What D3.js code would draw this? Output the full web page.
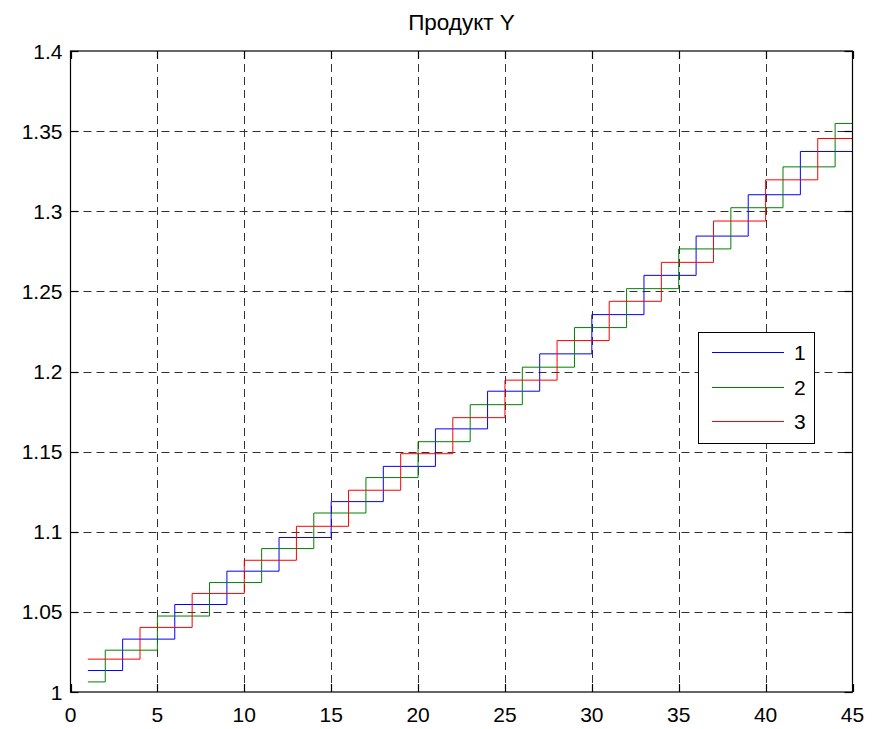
<!DOCTYPE html>
<html>
<head>
<meta charset="utf-8">
<script src="https://cdn.jsdelivr.net/npm/d3@7"></script>
<style>
  html, body { margin: 0; padding: 0; background: #fff; }
  svg { display: block; }
  text { font-family: "Liberation Sans", Arial, sans-serif; fill: #000; }
</style>
</head>
<body>
<svg id="chart" width="890" height="729"></svg>
<script>
// Chart title and axis ticks
const title = "Продукт Y";
const xTicks = [0, 5, 10, 15, 20, 25, 30, 35, 40, 45];
const yTicks = [1, 1.05, 1.1, 1.15, 1.2, 1.25, 1.3, 1.35, 1.4];

// Stair series: x where the level changes, and the level held from there
const s1x = [1, 3, 6, 9, 12, 15, 18, 21, 24, 27, 30, 33, 36, 39, 42, 45];
const s1y = [1.0134, 1.0330, 1.0546, 1.0754, 1.0964, 1.1188, 1.1408, 1.1642,
             1.1877, 1.2110, 1.2355, 1.2600, 1.2845, 1.3103, 1.3373, 1.3637];
const s2x = [1, 2, 5, 8, 11, 14, 17, 20, 23, 26, 29, 32, 35, 38, 41, 44];
const s2y = [1.0063, 1.0261, 1.0474, 1.0683, 1.0895, 1.1117, 1.1338, 1.1562,
             1.1793, 1.2027, 1.2274, 1.2517, 1.2765, 1.3022, 1.3277, 1.3548];
const s3x = [1, 4, 7, 10, 13, 16, 19, 22, 25, 28, 31, 34, 37, 40, 43];
const s3y = [1.0205, 1.0403, 1.0615, 1.0822, 1.1034, 1.1259, 1.1487, 1.1712,
             1.1946, 1.2193, 1.2438, 1.2681, 1.2939, 1.3196, 1.3454];

const seriesNames = ["1", "2", "3"];
const seriesColors = ["#0000ff", "#008000", "#ff0000"];

const svg = d3.select("#chart");
const W = 890, H = 729;
const m = { left: 70.5, right: 852.5, top: 51, bottom: 692 };

svg.append("rect").attr("width", W).attr("height", H).attr("fill", "#fff");

const x = d3.scaleLinear().domain([0, 45]).range([m.left, m.right]);
const y = d3.scaleLinear().domain([1, 1.4]).range([m.bottom, m.top]);

const px = v => Math.round(x(v)) + 0.5;
const py = v => Math.round(y(v)) + 0.5;

// Dashed grid
const grid = svg.append("g").attr("stroke", "#000").attr("stroke-width", 1)
  .attr("stroke-dasharray", "8,5").attr("opacity", 0.8);
xTicks.slice(1, -1).forEach(t => {
  grid.append("line").attr("x1", px(t)).attr("x2", px(t))
    .attr("y1", m.top).attr("y2", m.bottom);
});
yTicks.slice(1, -1).forEach(t => {
  grid.append("line").attr("x1", m.left).attr("x2", m.right)
    .attr("y1", py(t)).attr("y2", py(t));
});

// Stair lines
const line = d3.line().x(d => x(d[0])).y(d => y(d[1])).curve(d3.curveStepAfter);
[[s1x, s1y], [s2x, s2y], [s3x, s3y]].forEach(([xs, ys], i) => {
  const pts = xs.map((v, k) => [v, ys[k]]);
  const last = pts[pts.length - 1];
  if (last[0] < 45) pts.push([45, last[1]]);
  svg.append("path").datum(pts).attr("d", line)
    .attr("fill", "none").attr("stroke", seriesColors[i]).attr("stroke-width", 1);
});

// Axes box with inward ticks on all four sides
const tickLen = 8;
const axisG = svg.append("g").attr("stroke", "#000").attr("stroke-width", 1.2);
xTicks.forEach(t => {
  axisG.append("line").attr("x1", px(t)).attr("x2", px(t))
    .attr("y1", m.bottom).attr("y2", m.bottom - tickLen);
  axisG.append("line").attr("x1", px(t)).attr("x2", px(t))
    .attr("y1", m.top).attr("y2", m.top + tickLen);
});
yTicks.forEach(t => {
  axisG.append("line").attr("x1", m.left).attr("x2", m.left + tickLen)
    .attr("y1", py(t)).attr("y2", py(t));
  axisG.append("line").attr("x1", m.right).attr("x2", m.right - tickLen)
    .attr("y1", py(t)).attr("y2", py(t));
});
axisG.append("rect").attr("x", m.left).attr("y", m.top)
  .attr("width", m.right - m.left).attr("height", m.bottom - m.top)
  .attr("fill", "none");

// Tick labels
svg.append("g").selectAll("text").data(xTicks).join("text")
  .attr("x", d => x(d)).attr("y", m.bottom + 30)
  .attr("text-anchor", "middle").attr("font-size", 21)
  .text(d => d);
svg.append("g").selectAll("text").data(yTicks).join("text")
  .attr("x", m.left - 8).attr("y", d => y(d) + 7.5)
  .attr("text-anchor", "end").attr("font-size", 21)
  .text(d => d3.format("~g")(d));

// Title
svg.append("text").attr("x", (m.left + m.right) / 2).attr("y", 30)
  .attr("text-anchor", "middle").attr("font-size", 22.5).text(title);

// Legend
const lg = svg.append("g");
lg.append("rect").attr("x", 698.5).attr("y", 332.5).attr("width", 116).attr("height", 111)
  .attr("fill", "#fff").attr("stroke", "#000").attr("stroke-width", 1);
const legendRows = [352, 387, 421];
seriesNames.forEach((nm, i) => {
  lg.append("line").attr("x1", 712).attr("x2", 784)
    .attr("y1", legendRows[i] + 0.5).attr("y2", legendRows[i] + 0.5)
    .attr("stroke", seriesColors[i]).attr("stroke-width", 1);
  lg.append("text").attr("x", 794).attr("y", legendRows[i] + 8)
    .attr("font-size", 21).text(nm);
});
</script>
</body>
</html>
